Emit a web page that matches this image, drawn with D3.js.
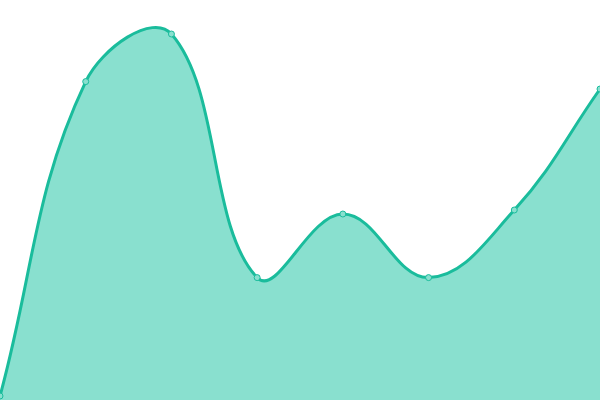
<!DOCTYPE html>
<html>
<head>
<meta charset="utf-8">
<script src="https://cdn.jsdelivr.net/npm/d3@7"></script>
<style>
  html, body { margin: 0; padding: 0; background: #fff; }
</style>
</head>
<body>
<div id="chart"></div>
<script>
// Area chart data
const labels = ["A", "B", "C", "D", "E", "F", "G", "H"];
const values = [1, 79.6, 91.5, 30.6, 46.5, 30.6, 47.5, 77.75];

const width = 600;
const height = 400;
const tension = 0.4;

const svg = d3.select("#chart")
   .append("svg")
   .attr("width", width)
   .attr("height", height);

const x = d3.scalePoint()
   .domain(labels)
   .range([0, width]);

const y = d3.scaleLinear()
   .domain([0, 100])
   .range([height, 0]);

const pts = values.map((d, i) => [x(labels[i]), y(d)]);

// spline control points, weighted by segment length, kept inside the chart
const clampX = v => Math.max(0, Math.min(width, v));
const clampY = v => Math.max(0, Math.min(height, v));
const ctrl = pts.map((p, i) => {
   const prev = pts[i - 1] || p;
   const next = pts[i + 1] || p;
   const d01 = Math.hypot(p[0] - prev[0], p[1] - prev[1]);
   const d12 = Math.hypot(next[0] - p[0], next[1] - p[1]);
   let s01 = d01 / (d01 + d12);
   let s12 = d12 / (d01 + d12);
   if (isNaN(s01)) s01 = 0;
   if (isNaN(s12)) s12 = 0;
   const fa = tension * s01;
   const fb = tension * s12;
   return {
      before: [clampX(p[0] - fa * (next[0] - prev[0])), clampY(p[1] - fa * (next[1] - prev[1]))],
      after: [clampX(p[0] + fb * (next[0] - prev[0])), clampY(p[1] + fb * (next[1] - prev[1]))]
   };
});

function splinePath(path) {
   path.moveTo(pts[0][0], pts[0][1]);
   for (let i = 1; i < pts.length; i++) {
      const a = ctrl[i - 1].after;
      const b = ctrl[i].before;
      path.bezierCurveTo(a[0], a[1], b[0], b[1], pts[i][0], pts[i][1]);
   }
   return path;
}

const areaPath = splinePath(d3.path());
areaPath.lineTo(pts[pts.length - 1][0], y(0));
areaPath.lineTo(pts[0][0], y(0));
areaPath.closePath();

svg.append("path")
   .attr("fill", "#89e0cf")
   .attr("d", areaPath.toString());

svg.append("path")
   .attr("fill", "none")
   .attr("stroke", "#1abc9c")
   .attr("stroke-width", 3)
   .attr("d", splinePath(d3.path()).toString());

svg.selectAll(".dot")
   .data(values)
   .enter()
   .append("circle")
   .attr("class", "dot")
   .attr("cx", (d, i) => x(labels[i]))
   .attr("cy", d => y(d))
   .attr("r", 3)
   .attr("fill", "#89e0cf")
   .attr("stroke", "#1abc9c")
   .attr("stroke-width", 1);
</script>
</body>
</html>
